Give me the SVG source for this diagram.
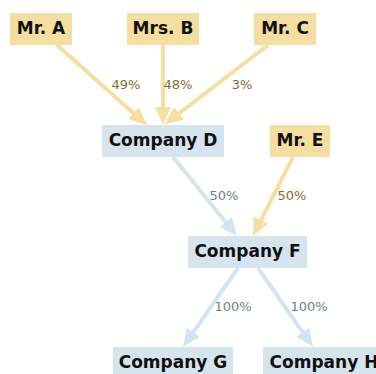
<svg xmlns="http://www.w3.org/2000/svg" width="376" height="374" viewBox="0 0 376 374">
<style>
.n text{font-family:"DejaVu Sans",sans-serif;font-weight:bold;font-size:17px;fill:#111;text-anchor:middle}
.y rect{fill:#f4dea0}
.b rect{fill:#d6e4ee}
.e{fill:none;stroke-width:4}
.ey{stroke:#f4dea0}
.eb{stroke:#d6e4ee}
.l{font-family:"DejaVu Sans",sans-serif;font-size:13px;text-anchor:middle}
.ly{fill:#8a6b2c}
.lb{fill:#6f808c}
</style>
<defs>
<marker id="ay" markerUnits="userSpaceOnUse" markerWidth="18" markerHeight="16" refX="8" refY="8" orient="auto"><path d="M0,0 L18,8 L0,16 z" fill="#f4dea0"/></marker>
<marker id="ab" markerUnits="userSpaceOnUse" markerWidth="18" markerHeight="16" refX="8" refY="8" orient="auto"><path d="M0,0 L18,8 L0,16 z" fill="#d6e4ee"/></marker>
</defs>
<rect width="376" height="374" fill="#fff"/>
<g id="connectors">
<path class="e ey" d="M57,45 L139.5,118.4" marker-end="url(#ay)"/>
<path class="e ey" d="M163,45 L163,115" marker-end="url(#ay)"/>
<path class="e ey" d="M268,45 L172.6,118.3" marker-end="url(#ay)"/>
<path class="e eb" d="M173,157 L230.7,228.2" marker-end="url(#ab)"/>
<path class="e ey" d="M293,157 L257.5,227.1" marker-end="url(#ay)"/>
<path class="e eb" d="M238,268 L188.7,338.8" marker-end="url(#ab)"/>
<path class="e eb" d="M258,268 L307.3,338.8" marker-end="url(#ab)"/>
<text class="l ly" x="126" y="89">49%</text>
<text class="l ly" x="178" y="89">48%</text>
<text class="l ly" x="242" y="89">3%</text>
<text class="l lb" x="224" y="200">50%</text>
<text class="l ly" x="292" y="200">50%</text>
<text class="l lb" x="233" y="311">100%</text>
<text class="l lb" x="309" y="311">100%</text>
</g>
<g id="mrA" class="n y"><rect x="10" y="13" width="62" height="32"/><text x="41" y="34">Mr. A</text></g>
<g id="mrsB" class="n y"><rect x="127" y="13" width="72" height="32"/><text x="163" y="34">Mrs. B</text></g>
<g id="mrC" class="n y"><rect x="254" y="13" width="62" height="32"/><text x="285" y="34">Mr. C</text></g>
<g id="companyD" class="n b"><rect x="102" y="125" width="122" height="32"/><text x="163" y="146">Company D</text></g>
<g id="mrE" class="n y"><rect x="270" y="125" width="60" height="32"/><text x="300" y="146">Mr. E</text></g>
<g id="companyF" class="n b"><rect x="188" y="236" width="119" height="32"/><text x="247.5" y="257">Company F</text></g>
<g id="companyG" class="n b"><rect x="113" y="347" width="120" height="32"/><text x="173" y="368">Company G</text></g>
<g id="companyH" class="n b"><rect x="263" y="347" width="122" height="32"/><text x="324" y="368">Company H</text></g>
</svg>
